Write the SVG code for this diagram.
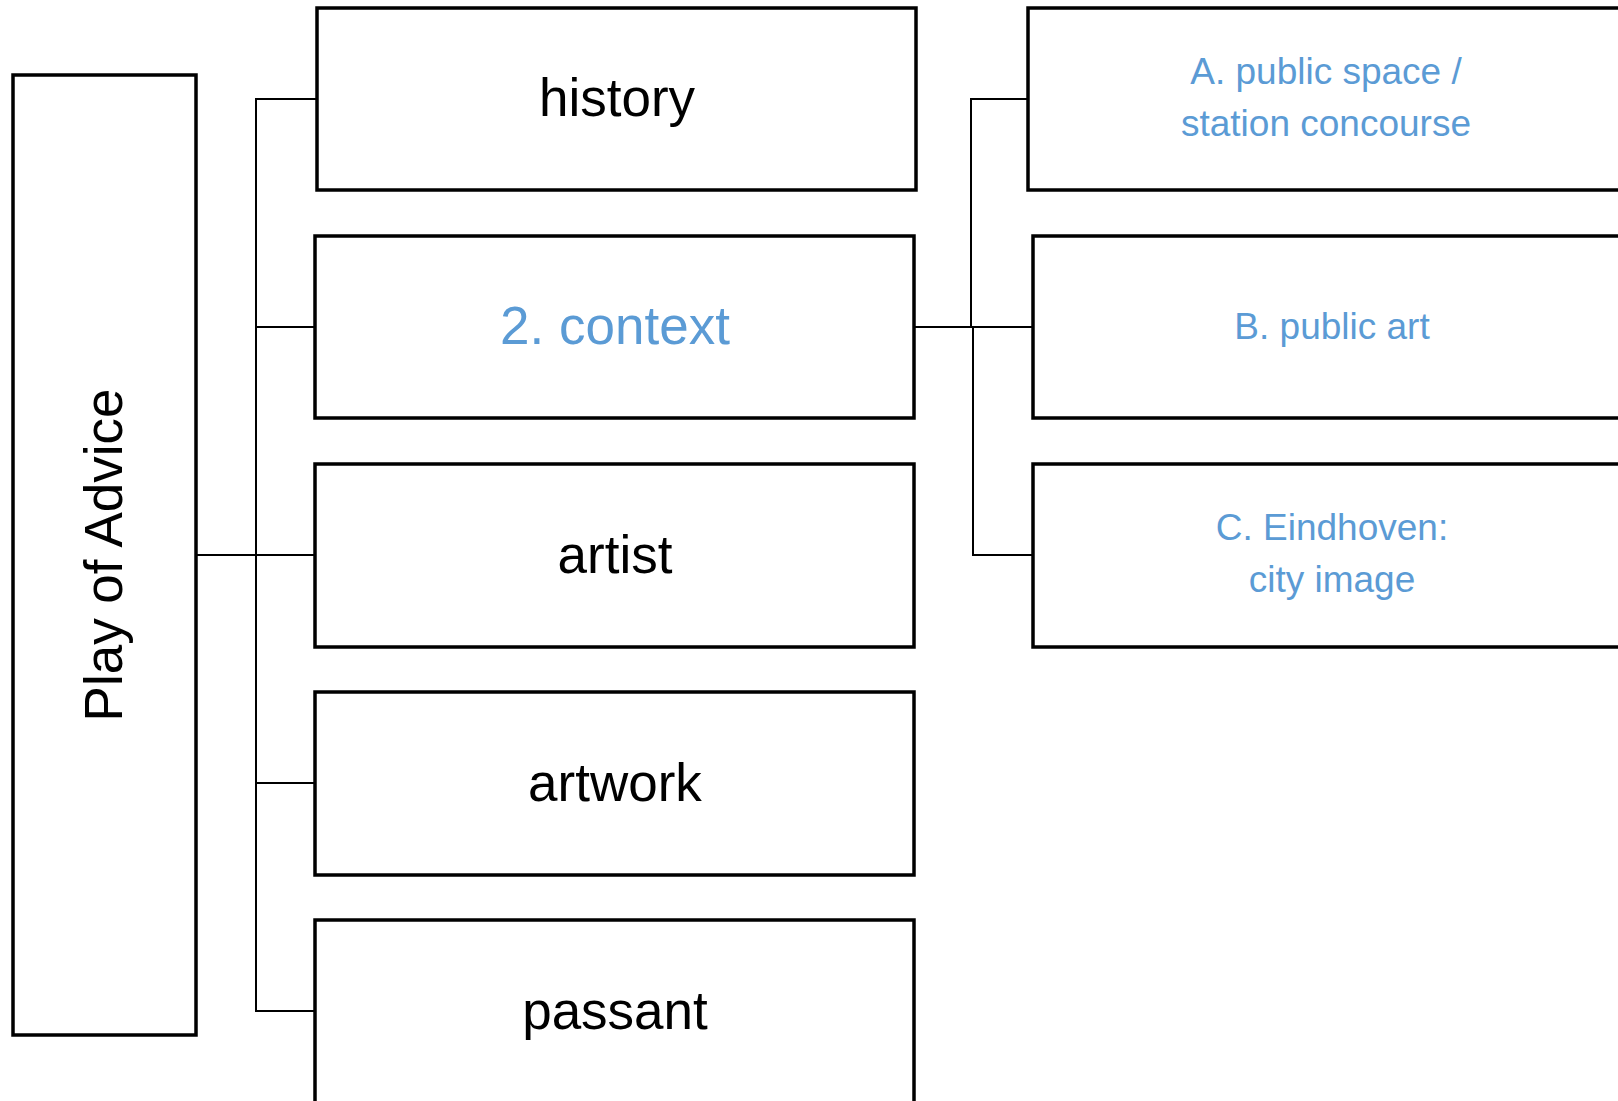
<svg xmlns="http://www.w3.org/2000/svg" width="1618" height="1101" viewBox="0 0 1618 1101">
  <style>
    .box { fill: #ffffff; stroke: #000000; stroke-width: 3.5; }
    .wire { fill: none; stroke: #000000; stroke-width: 2; }
    .lbl { font-family: "Liberation Sans", Arial, sans-serif; text-anchor: middle; }
    .big { font-size: 53px; fill: #000000; }
    .big.blue { fill: #5b9bd5; }
    .small { font-size: 37px; fill: #5b9bd5; }
  </style>
  <rect width="1618" height="1101" fill="#ffffff"/>

  <!-- connectors -->
  <g id="connectors">
    <path class="wire" d="M196,555 H256 V99 H317"/>
    <path class="wire" d="M196,555 H256 V327 H315"/>
    <path class="wire" d="M196,555 H315"/>
    <path class="wire" d="M196,555 H256 V783 H315"/>
    <path class="wire" d="M196,555 H256 V1011 H315"/>
    <path class="wire" d="M914,327 H971 V99 H1028"/>
    <path class="wire" d="M914,327 H1033"/>
    <path class="wire" d="M914,327 H973 V555 H1033"/>
  </g>

  <!-- root node -->
  <g id="play-of-advice">
    <rect class="box" x="13" y="75" width="183" height="960"/>
    <text class="lbl big" transform="translate(104,555) rotate(-90)" y="18">Play of Advice</text>
  </g>

  <!-- first level -->
  <g id="history">
    <rect class="box" x="317" y="8" width="599" height="182"/>
    <text class="lbl big" x="617" y="116">history</text>
  </g>
  <g id="context">
    <rect class="box" x="315" y="236" width="599" height="182"/>
    <text class="lbl big blue" x="615" y="344">2. context</text>
  </g>
  <g id="artist">
    <rect class="box" x="315" y="464" width="599" height="183"/>
    <text class="lbl big" x="615" y="573">artist</text>
  </g>
  <g id="artwork">
    <rect class="box" x="315" y="692" width="599" height="183"/>
    <text class="lbl big" x="615" y="801">artwork</text>
  </g>
  <g id="passant">
    <rect class="box" x="315" y="920" width="599" height="200"/>
    <text class="lbl big" x="615" y="1029">passant</text>
  </g>

  <!-- second level under context -->
  <g id="public-space">
    <rect class="box" x="1028" y="8" width="620" height="182"/>
    <text class="lbl small" x="1326" y="84">A. public space /</text>
    <text class="lbl small" x="1326" y="136">station concourse</text>
  </g>
  <g id="public-art">
    <rect class="box" x="1033" y="236" width="620" height="182"/>
    <text class="lbl small" x="1332" y="339">B. public art</text>
  </g>
  <g id="eindhoven">
    <rect class="box" x="1033" y="464" width="620" height="183"/>
    <text class="lbl small" x="1332" y="540">C. Eindhoven:</text>
    <text class="lbl small" x="1332" y="592">city image</text>
  </g>
</svg>
